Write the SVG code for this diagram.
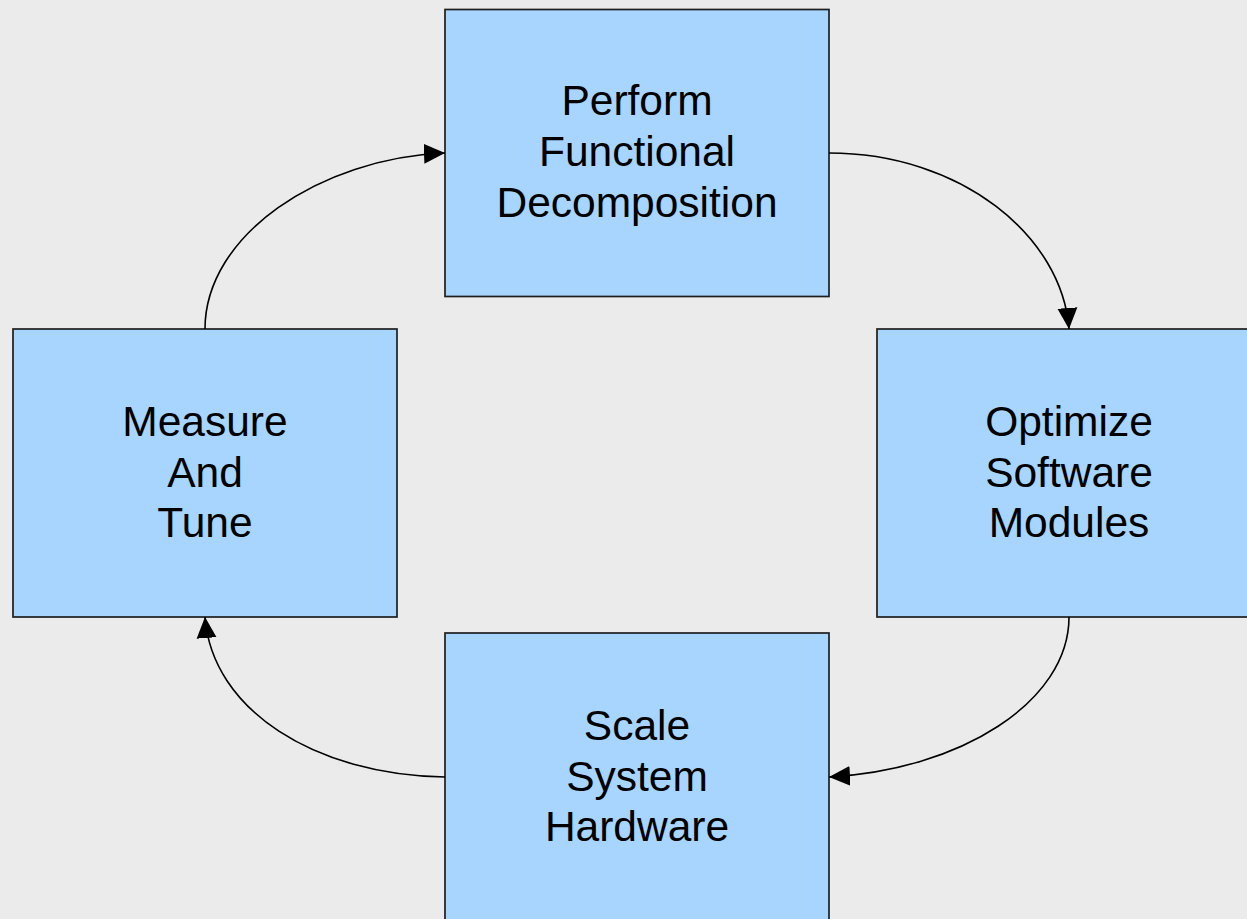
<svg xmlns="http://www.w3.org/2000/svg" width="1247" height="919" viewBox="0 0 1247 919">
<style>
.box{fill:#a8d5fe;stroke:#1e1e1e;stroke-width:1.7}
.lbl{font-family:"Liberation Sans",Arial,sans-serif;font-size:42.5px;fill:#000;text-anchor:middle}
.conn{fill:none;stroke:#000;stroke-width:1.6}
</style>
<defs>
<marker id="arr" markerUnits="userSpaceOnUse" markerWidth="22" markerHeight="22" refX="21" refY="10" orient="auto" viewBox="0 0 22 20">
<path d="M0,0 L21,10 L0,20 z" fill="#000"/>
</marker>
</defs>
<rect width="1247" height="919" fill="#ebebeb"/>
<g id="node-decomp">
<rect class="box" x="445" y="9.5" width="384" height="287"/>
<text class="lbl" x="637" y="115">Perform</text>
<text class="lbl" x="637" y="166">Functional</text>
<text class="lbl" x="637" y="217">Decomposition</text>
</g>
<g id="node-optimize">
<rect class="box" x="877" y="329" width="384" height="288"/>
<text class="lbl" x="1069" y="436">Optimize</text>
<text class="lbl" x="1069" y="487">Software</text>
<text class="lbl" x="1069" y="537">Modules</text>
</g>
<g id="node-scale">
<rect class="box" x="445" y="633" width="384" height="300"/>
<text class="lbl" x="637" y="740">Scale</text>
<text class="lbl" x="637" y="791">System</text>
<text class="lbl" x="637" y="841">Hardware</text>
</g>
<g id="node-measure">
<rect class="box" x="13" y="329" width="384" height="288"/>
<text class="lbl" x="205" y="436">Measure</text>
<text class="lbl" x="205" y="487">And</text>
<text class="lbl" x="205" y="537">Tune</text>
</g>
<g id="connectors">
<path class="conn" marker-end="url(#arr)" d="M829,153 C961,153 1062,236 1069,329"/>
<path class="conn" marker-end="url(#arr)" d="M1069,617 C1069,702 960,770 829,777"/>
<path class="conn" marker-end="url(#arr)" d="M445,777 C315,775 212,710 205,617"/>
<path class="conn" marker-end="url(#arr)" d="M205,329 C205,235 320,158 445,153"/>
</g>
</svg>
